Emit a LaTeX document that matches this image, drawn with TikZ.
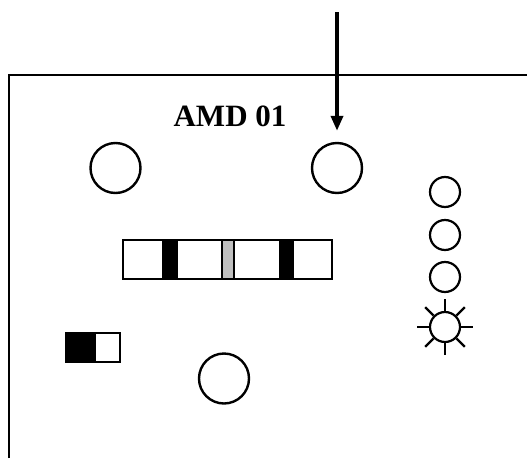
\documentclass[tikz,border=0pt]{standalone}
\usepackage{fontspec}
\setmainfont{Liberation Serif}
\usetikzlibrary{arrows.meta,calc}
\tikzset{
  >={Triangle[length=15pt,width=12pt]},
  every picture/.style={line join=miter},
  knob/.style={circle, draw, line width=2.4pt, inner sep=0pt, minimum size=50pt},
  lamp/.style={circle, draw, line width=2.2pt, inner sep=0pt, minimum size=30pt},
  cell/.style={rectangle, draw, line width=2.2pt, inner sep=0pt},
  bar/.style={cell, fill=#1, minimum width=13pt, minimum height=39pt},
  frame/.style={line width=2.4pt},
  ray/.style={line width=2.2pt},
  title/.style={font=\fontsize{31}{31}\selectfont\bfseries, inner sep=0pt},
}
\begin{document}
\begin{tikzpicture}[x=1pt, y=-1pt]
  \useasboundingbox (0,0) rectangle (527,458);
  % ---------------- housing ----------------
  \draw[frame] (9,458) |- (527,75);
  \node[title, anchor=base] (name) at (230,126) {AMD 01};
  % ---------------- knobs ----------------
  \node[knob] (kl) at (115.5,168) {};
  \node[knob] (kr) at (337,168) {};
  \node[knob] (kb) at (224,378.5) {};
  \coordinate (in) at (337,12);
  \draw[->, line width=3.6pt, shorten >=11pt] (in) -- (kr.north);
  % ---------------- display strip ----------------
  \node[cell, minimum width=209pt, minimum height=39pt] (strip) at (227.5,259.5) {};
  \node[bar=black] (b1) at (170,259.5) {};
  \node[bar=black!25, minimum width=12pt] (b2) at (228,259.5) {};
  \node[bar=black] (b3) at (286.5,259.5) {};
  % ---------------- switch ----------------
  \node[cell, fill=black, minimum width=27pt, minimum height=29pt] (swa) at (79.5,347.5) {};
  \node[cell, minimum width=25pt, minimum height=29pt, anchor=west] (swb) at (swa.east) {};
  % ---------------- lamps ----------------
  \foreach \n/\yy in {1/192,2/235,3/277}{
    \node[lamp] (l\n) at (445,\yy) {};}
  \node[lamp] (sun) at (445,327) {};
  \foreach \a in {0,45,...,315}{
    \draw[ray] (sun.\a) -- ($(sun.center)+(\a:28pt)$);}
\end{tikzpicture}
\end{document}
